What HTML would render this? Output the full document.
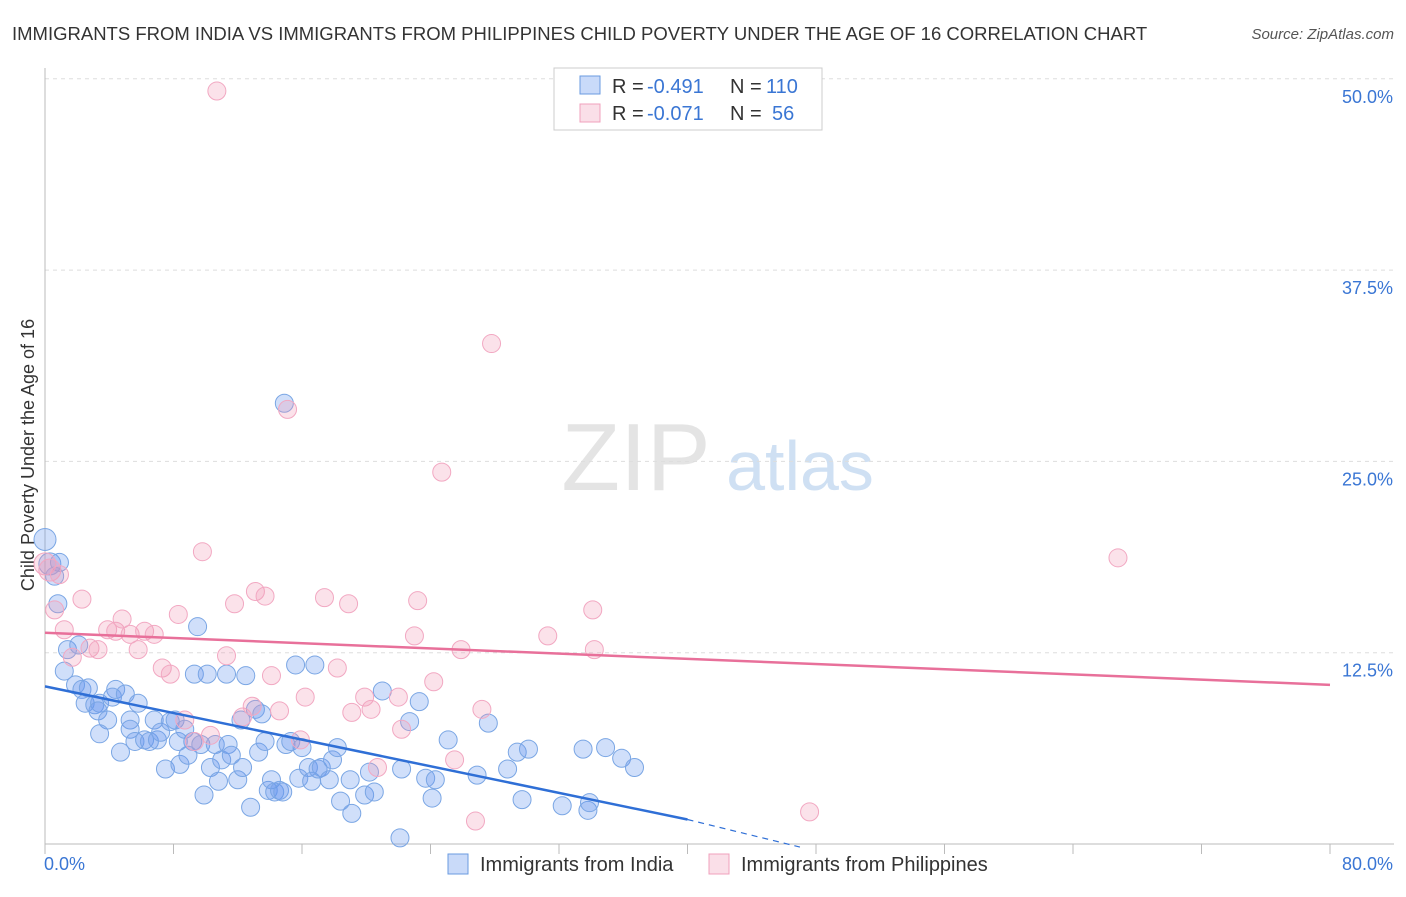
<!DOCTYPE html>
<html><head><meta charset="utf-8"><style>
body{margin:0;background:#fff;font-family:"Liberation Sans",sans-serif;}
svg text{font-family:"Liberation Sans",sans-serif;}
</style></head><body>
<svg id="chart" width="1406" height="892">
<text x="12" y="40" font-size="18.5" fill="#333">IMMIGRANTS FROM INDIA VS IMMIGRANTS FROM PHILIPPINES CHILD POVERTY UNDER THE AGE OF 16 CORRELATION CHART</text>
<text x="1394" y="39" font-size="15" fill="#555" text-anchor="end" font-style="italic">Source: ZipAtlas.com</text>
<text x="636" y="490" font-size="96" fill="#e4e4e4" font-family="Liberation Serif" text-anchor="middle">ZIP</text>
<text x="800" y="490" font-size="70" fill="#cfe0f3" text-anchor="middle">atlas</text>
<text transform="translate(34,455) rotate(-90)" font-size="18" fill="#333" text-anchor="middle">Child Poverty Under the Age of 16</text>
<g id="grid"></g><g id="marks"></g>
<g>
<rect x="554" y="68" width="268" height="62" fill="#fff" stroke="#ccc"/>
<rect x="580" y="76" width="20" height="18" fill="rgba(100,149,237,0.35)" stroke="#6a9be0"/>
<rect x="580" y="104" width="20" height="18" fill="rgba(240,150,180,0.3)" stroke="#f0a0bc"/>
<text x="612" y="93" font-size="20" fill="#333">R =</text>
<text x="647" y="93" font-size="20" fill="#3a76d4">-0.491</text>
<text x="730" y="93" font-size="20" fill="#333">N =</text>
<text x="766" y="93" font-size="20" fill="#3a76d4">110</text>
<text x="612" y="120" font-size="20" fill="#333">R =</text>
<text x="647" y="120" font-size="20" fill="#3a76d4">-0.071</text>
<text x="730" y="120" font-size="20" fill="#333">N =</text>
<text x="772" y="120" font-size="20" fill="#3a76d4">56</text>
</g>
<g>
<rect x="448" y="854" width="20" height="20" fill="rgba(100,149,237,0.35)" stroke="#6a9be0"/>
<text x="480" y="871" font-size="20" fill="#333">Immigrants from India</text>
<rect x="709" y="854" width="20" height="20" fill="rgba(240,150,180,0.3)" stroke="#f0a0bc"/>
<text x="741" y="871" font-size="20" fill="#333">Immigrants from Philippines</text>
</g>
</svg>
<script>
const yTicks=[12.5,25,37.5,50];
const yTickLabels=["12.5%","25.0%","37.5%","50.0%"];
const xTicks=[0,8,16,24,32,40,48,56,64,72,80];
const indiaX=[0,0.3,0.9,0.6,0.8,1.4,1.2,2.1,1.9,2.3,2.7,2.5,3.1,3.4,3.3,3.9,3.4,4.4,4.2,5.0,4.7,5.3,5.3,5.8,5.6,6.2,6.5,6.8,7.0,7.2,7.5,7.8,8.1,8.3,8.4,8.7,8.9,9.2,9.3,9.5,9.7,9.9,10.1,10.3,10.6,10.8,11.0,11.3,11.4,11.6,12.0,12.3,12.5,12.2,12.8,13.1,13.3,13.5,13.7,13.9,14.1,14.3,14.6,14.8,14.9,15.0,15.3,15.6,15.8,16.0,16.4,16.6,16.8,17.0,17.2,17.7,17.9,18.2,18.4,19.0,19.1,19.9,20.2,20.5,21.0,22.1,22.2,22.7,23.3,23.7,24.1,24.3,25.1,26.9,27.6,28.8,29.4,29.7,30.1,32.2,33.5,33.8,33.9,34.9,35.9,36.7];
const indiaY=[19.9,18.3,18.4,17.5,15.7,12.7,11.3,13.0,10.4,10.1,10.2,9.2,9.1,9.2,8.7,8.1,7.2,10.1,9.6,9.8,6.0,8.1,7.5,9.2,6.7,6.8,6.7,8.1,6.8,7.3,4.9,8.0,8.1,6.7,5.2,7.5,5.8,6.7,11.1,14.2,6.5,3.2,11.1,5.0,6.5,4.1,5.5,11.1,6.5,5.8,4.2,5.0,11.0,8.1,2.4,8.8,6.0,8.5,6.7,3.5,4.2,3.4,3.5,3.4,28.8,6.5,6.7,11.7,4.3,6.3,5.0,4.1,11.7,4.9,5.0,4.2,5.5,6.3,2.8,4.2,2.0,3.2,4.7,3.4,10.0,0.4,4.9,8.0,9.3,4.3,3.0,4.2,6.8,4.5,7.9,4.9,6.0,2.9,6.2,2.5,6.2,2.2,2.7,6.3,5.6,5.0];
const philX=[0,0.3,0.6,0.9,1.2,1.7,2.3,2.8,3.3,3.9,4.4,4.8,5.3,5.8,6.2,6.8,7.3,7.8,8.3,8.7,9.3,9.8,10.3,10.7,11.3,11.8,12.3,12.9,13.1,13.7,14.1,14.6,15.1,15.9,16.2,17.4,18.2,18.9,19.1,19.9,20.3,20.7,22.0,22.2,23.0,23.2,24.2,24.7,25.5,25.9,26.8,27.2,27.8,31.3,34.1,34.2,47.6,66.8];
const philY=[18.3,17.9,15.3,17.6,14.0,12.2,16.0,12.8,12.7,14.0,13.9,14.7,13.7,12.7,13.9,13.7,11.5,11.1,15.0,8.1,6.7,19.1,7.1,49.2,12.3,15.7,8.3,9.0,16.5,16.2,11.0,8.7,28.4,6.8,9.6,16.1,11.5,15.7,8.6,9.6,8.8,5.0,9.6,7.5,13.6,15.9,10.6,24.3,5.5,12.7,1.5,8.8,32.7,13.6,15.3,12.7,2.1,18.7];
const indiaTrend=[[0,10.3],[40,1.6],[47,-0.2]];
const philTrend=[[0,13.8],[80,10.4]];
const NS="http://www.w3.org/2000/svg";
const X0=45,X1=1330,Y0=844,PX=191.3/12.5;
function sx(v){return X0+(v/80)*(X1-X0);}
function sy(v){return Y0-v*PX;}
function mk(tag,attrs,parent){const e=document.createElementNS(NS,tag);for(const k in attrs)e.setAttribute(k,attrs[k]);parent.appendChild(e);return e;}
const grid=document.getElementById('grid'),marks=document.getElementById('marks');
yTicks.forEach((t,i)=>{
 const l=mk('line',{x1:X0,x2:1394,y1:sy(t),y2:sy(t),stroke:'#ddd','stroke-dasharray':'4,4'},grid);
 
 
 const tx=mk('text',{x:1393,y:sy(t)+24,'font-size':18,fill:'#3a76d4','text-anchor':'end'},grid);
 tx.textContent=yTickLabels[i];
 
 
});
const ax=mk('line',{x1:X0,x2:1394,y1:Y0,y2:Y0,stroke:'#bbb'},grid);


const ay=mk('line',{x1:X0,x2:X0,y1:68,y2:Y0,stroke:'#bbb'},grid);


xTicks.forEach(t=>{
 const l=mk('line',{x1:sx(t),x2:sx(t),y1:Y0,y2:Y0+10,stroke:'#bbb'},grid);
 
 
});
const xl0=mk('text',{x:44,y:870,'font-size':18,fill:'#3a76d4'},grid);xl0.textContent='0.0%';


const xl1=mk('text',{x:1393,y:870,'font-size':18,fill:'#3a76d4','text-anchor':'end'},grid);xl1.textContent='80.0%';


function pts(xs,ys,fill,stroke,name){xs.forEach((x,i)=>{
 const r=i<2?11:9;
 const c=mk('circle',{cx:sx(x),cy:sy(ys[i]),r:r,fill:fill,stroke:stroke,'stroke-width':1},marks);
 
 
});}
pts(indiaX,indiaY,'rgba(100,149,237,0.3)','#7aa6e4','india-point');
pts(philX,philY,'rgba(240,150,180,0.28)','#f2a8c2','philippines-point');
const bt=mk('line',{x1:sx(indiaTrend[0][0]),y1:sy(indiaTrend[0][1]),x2:sx(indiaTrend[1][0]),y2:sy(indiaTrend[1][1]),stroke:'#2f6fd6','stroke-width':2.5},marks);


const bd=mk('line',{x1:sx(indiaTrend[1][0]),y1:sy(indiaTrend[1][1]),x2:sx(indiaTrend[2][0]),y2:sy(indiaTrend[2][1]),stroke:'#2f6fd6','stroke-width':1.2,'stroke-dasharray':'6,5'},marks);


const pt=mk('line',{x1:sx(philTrend[0][0]),y1:sy(philTrend[0][1]),x2:sx(philTrend[1][0]),y2:sy(philTrend[1][1]),stroke:'#e8709a','stroke-width':2.5},marks);


</script>
</body></html>
